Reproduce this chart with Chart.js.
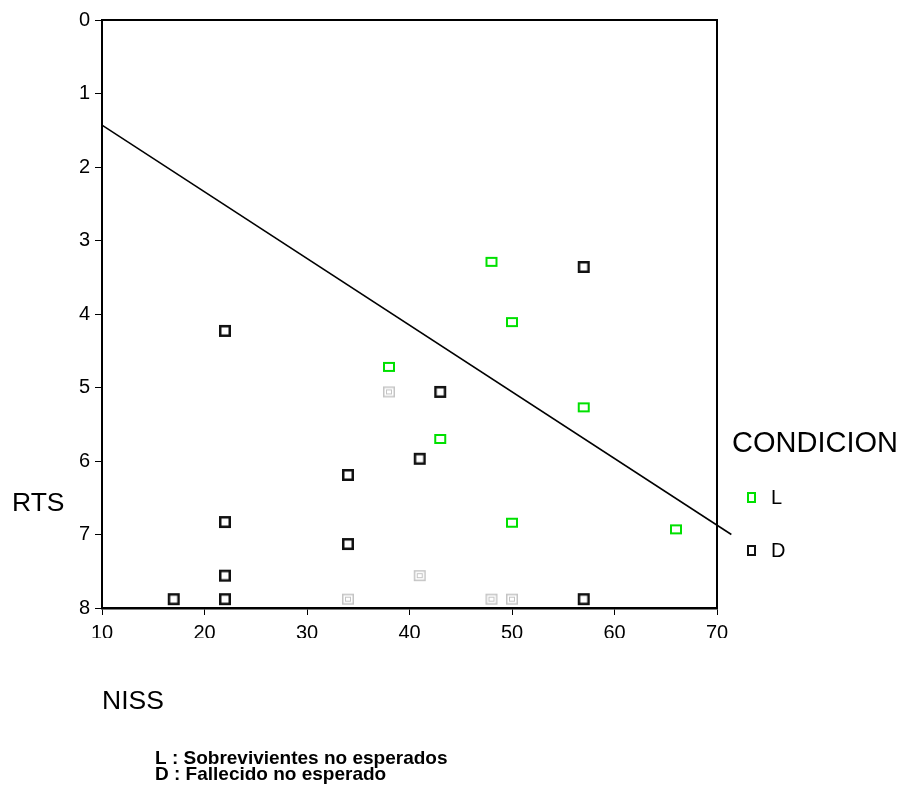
<!DOCTYPE html>
<html>
<head>
<meta charset="utf-8">
<script src="https://cdn.jsdelivr.net/npm/chart.js@4"></script>
<style>
  body { margin: 0; background: #fff; }
</style>
</head>
<body>
<canvas id="myChart" width="900" height="787"></canvas>
<script>
// values
const nissL = [48, 50, 38, 57, 43, 50, 66];
const rtsL = [3.29, 4.11, 4.72, 5.27, 5.70, 6.84, 6.93];

const nissD = [57, 22, 43, 41, 34, 22, 34, 22, 17, 22, 57];
const rtsD = [3.36, 4.23, 5.06, 5.97, 6.19, 6.83, 7.13, 7.56, 7.88, 7.88, 7.88];

// cases where several patients coincide (drawn in light gray)
const nissMulti = [38, 41, 34, 48, 50];
const rtsMulti = [5.06, 7.56, 7.88, 7.88, 7.88];

// fitted line end points
const fitNiss = [10, 71.4];
const fitRts = [1.43, 7.0];

const xTicks = [10, 20, 30, 40, 50, 60, 70];
const yTicks = [0, 1, 2, 3, 4, 5, 6, 7, 8];

function toPoints(xs, ys) {
    return xs.map((x, i) => ({ x: x, y: ys[i] }));
}

// small box marker as canvas, used as pointStyle
function makeBox(w, h, color, lw, inner) {
    const c = document.createElement('canvas');
    c.width = w + 2;
    c.height = h + 2;
    const g = c.getContext('2d');
    g.strokeStyle = color;
    g.lineWidth = lw;
    g.strokeRect(1 + lw / 2, 1 + lw / 2, w - lw, h - lw);
    if (inner) {
        g.lineWidth = 1;
        g.strokeRect(4.5, 4.5, w - 7, h - 7);
    }
    return c;
}

const boxGreen = makeBox(12, 10, '#00e000', 2);
const boxBlack = makeBox(12, 12, '#111111', 2.5);
const boxGray = makeBox(12, 11, '#c4c4c4', 1.5, true);

const fontFam = '"Liberation Sans", Arial, sans-serif';

// frame on top and right side of the plot
const framePlugin = {
    id: 'frame',
    beforeDatasetsDraw(chart) {
        const a = chart.chartArea;
        const ctx = chart.ctx;
        ctx.save();
        ctx.strokeStyle = '#000';
        ctx.lineWidth = 2;
        ctx.beginPath();
        ctx.moveTo(a.left, a.top);
        ctx.lineTo(a.right, a.top);
        ctx.lineTo(a.right, a.bottom);
        ctx.stroke();
        ctx.restore();
    }
};

// titles, legend and notes
const textPlugin = {
    id: 'texts',
    afterDraw(chart) {
        const ctx = chart.ctx;
        ctx.save();
        ctx.fillStyle = '#000';
        ctx.textBaseline = 'middle';
        ctx.textAlign = 'left';
        ctx.font = '26.5px ' + fontFam;
        ctx.fillText('RTS', 12, 504);
        ctx.fillText('NISS', 102, 702);
        ctx.font = '29px ' + fontFam;
        ctx.fillText('CONDICION', 732, 444);

        ctx.font = '20px ' + fontFam;
        ctx.drawImage(makeBox(9, 11, '#00e000', 2), 746, 491);
        ctx.fillText('L', 771, 498);
        ctx.drawImage(makeBox(9, 11, '#111111', 2), 746, 544);
        ctx.fillText('D', 771, 551);

        ctx.font = 'bold 19px ' + fontFam;
        ctx.fillText('L : Sobrevivientes no esperados', 155, 759);
        ctx.fillText('D : Fallecido no esperado', 155, 775);
        ctx.restore();
    }
};

document.addEventListener("DOMContentLoaded", function () {
    const ctx = document.getElementById('myChart').getContext('2d');
    new Chart(ctx, {
        type: 'scatter',
        data: {
            datasets: [
                {
                    label: 'L',
                    data: toPoints(nissL, rtsL),
                    pointStyle: boxGreen,
                    pointRadius: 6
                },
                {
                    label: 'D',
                    data: toPoints(nissD, rtsD),
                    pointStyle: boxBlack,
                    pointRadius: 6
                },
                {
                    label: 'multi',
                    data: toPoints(nissMulti, rtsMulti),
                    pointStyle: boxGray,
                    pointRadius: 6
                },
                {
                    label: 'fit',
                    data: toPoints(fitNiss, fitRts),
                    showLine: true,
                    borderColor: '#000',
                    borderWidth: 1.5,
                    pointRadius: 0,
                    clip: false
                }
            ]
        },
        options: {
            responsive: false,
            animation: false,
            layout: {
                padding: { left: 58, right: 183, top: 20, bottom: 149 }
            },
            plugins: {
                legend: { display: false },
                tooltip: { enabled: false }
            },
            scales: {
                x: {
                    type: 'linear',
                    min: 10,
                    max: 70,
                    afterFit(scale) { scale.height = 30; },
                    afterBuildTicks(scale) { scale.ticks = xTicks.map(v => ({ value: v })); },
                    grid: { drawOnChartArea: false, color: '#000', tickLength: 7 },
                    border: { color: '#000', width: 2.5 },
                    ticks: { color: '#000', padding: 6, font: { size: 20, family: fontFam } }
                },
                y: {
                    type: 'linear',
                    min: 0,
                    max: 8,
                    reverse: true,
                    afterFit(scale) { scale.width = 44; },
                    afterBuildTicks(scale) { scale.ticks = yTicks.map(v => ({ value: v })); },
                    grid: { drawOnChartArea: false, color: '#000', tickLength: 7 },
                    border: { color: '#000', width: 2 },
                    ticks: { color: '#000', padding: 5, font: { size: 20, family: fontFam } }
                }
            }
        },
        plugins: [framePlugin, textPlugin]
    });
});
</script>
</body>
</html>
